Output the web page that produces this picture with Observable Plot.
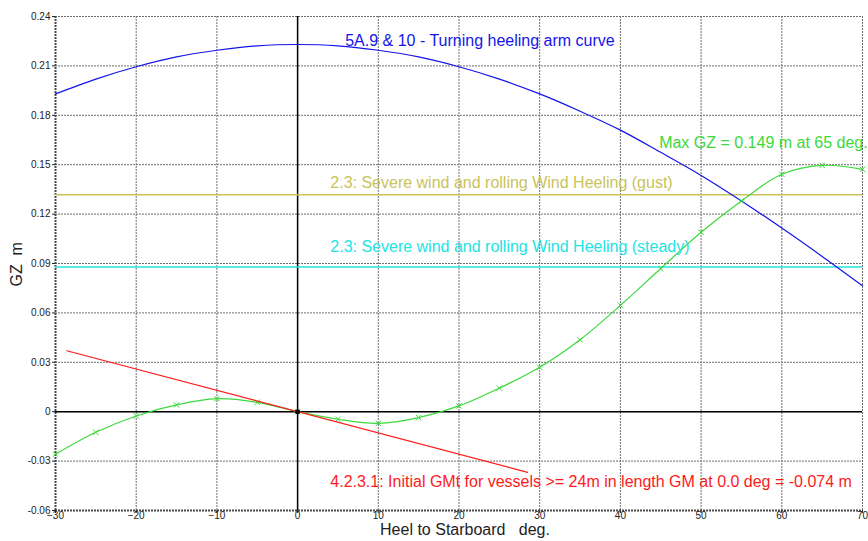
<!DOCTYPE html>
<html>
<head>
<meta charset="utf-8">
<script src="https://cdn.jsdelivr.net/npm/d3@7"></script>
<script src="https://cdn.jsdelivr.net/npm/@observablehq/plot@0.6"></script>
<style>
  html, body { margin: 0; padding: 0; background: #fff; }
  #chart svg { display: block; font-family: "Liberation Sans", Arial, sans-serif; }
</style>
</head>
<body>
<div id="chart"></div>
<script>
// ---- Data ----
const xTicks = [-30, -20, -10, 0, 10, 20, 30, 40, 50, 60, 70];
const yTicks = [-0.06, -0.03, 0, 0.03, 0.06, 0.09, 0.12, 0.15, 0.18, 0.21, 0.24];

// GZ curve (heel deg, GZ m)
const gzHeel = [-30, -25, -20, -15, -10, -5, 0, 5, 10, 15, 20, 25, 30, 35, 40, 45, 50, 55, 60, 65, 70];
const gzValue = [-0.0258, -0.0125, -0.0026, 0.0041, 0.0079, 0.0057, 0, -0.0046, -0.0071, -0.0036, 0.0035, 0.0143, 0.0270, 0.0437, 0.0646, 0.0870, 0.1090, 0.1280, 0.1442, 0.1496, 0.1472];

// Turning heeling arm curve
const armHeel = [-30, -25, -20, -15, -10, -5, 0, 5, 10, 15, 20, 25, 30, 35, 40, 45, 50, 55, 60, 65, 70];
const armValue = [0.1930, 0.2020, 0.2095, 0.2155, 0.2195, 0.2222, 0.2230, 0.2222, 0.2195, 0.2155, 0.2095, 0.2020, 0.1930, 0.1825, 0.1710, 0.1575, 0.1435, 0.1280, 0.1115, 0.0943, 0.0765];

// Wind heeling levels
const gustLevel = 0.1318;
const steadyLevel = 0.0879;

// Initial GMt line
const gmHeel = [-28.6, 28.5];
const gmValue = [0.0370, -0.0368];

// Labels
const labelText = [
  "5A.9 & 10 - Turning heeling arm curve",
  "Max GZ = 0.149 m at 65 deg.",
  "2.3: Severe wind and rolling Wind Heeling (gust)",
  "2.3: Severe wind and rolling Wind Heeling (steady)",
  "4.2.3.1: Initial GMt for vessels >= 24m in length GM at 0.0 deg = -0.074 m"
];
const labelHeel = [5.9, 44.8, 4.05, 4.05, 4.05];
const labelGZ = [0.2254, 0.1630, 0.1387, 0.0999, -0.0426];

const xTitle = "Heel to Starboard\u00a0\u00a0\u00a0deg.";
const yTitle = "GZ\u00a0\u00a0m";

// ---- Colours ----
const cBlue = "#1414ea";
const cGreen = "#3cd93c";
const cGust = "#c9c35c";
const cCyan = "#22e3e3";
const cRed = "#ff1a1a";
const labelColors = [cBlue, cGreen, cGust, cCyan, cRed];

const gz = gzHeel.map((h, i) => ({heel: h, v: gzValue[i]}));
const arm = armHeel.map((h, i) => ({heel: h, v: armValue[i]}));
const gm = gmHeel.map((h, i) => ({heel: h, v: gmValue[i]}));
const labels = labelText.map((t, i) => ({t, heel: labelHeel[i], v: labelGZ[i], c: labelColors[i]}));

const chart = Plot.plot({
  width: 868,
  height: 541,
  marginLeft: 55,
  marginRight: 6,
  marginTop: 16,
  marginBottom: 31,
  style: {fontFamily: "Liberation Sans, Arial, sans-serif", background: "#fff"},
  x: {domain: [-30, 70]},
  y: {domain: [-0.06, 0.24]},
  marks: [
    // grid
    Plot.ruleX(xTicks, {stroke: "#6e6e6e", strokeWidth: 1, strokeDasharray: "2,1"}),
    Plot.ruleY(yTicks, {stroke: "#6e6e6e", strokeWidth: 1, strokeDasharray: "2,1"}),
    // frame axes
    Plot.ruleX([-30], {stroke: "#4a4a4a", strokeWidth: 2, strokeDasharray: "2,1"}),
    Plot.ruleY([-0.06], {stroke: "#4a4a4a", strokeWidth: 2, strokeDasharray: "2,1"}),
    // zero lines
    Plot.ruleX([0], {stroke: "#000", strokeWidth: 1.5}),
    Plot.ruleY([0], {stroke: "#000", strokeWidth: 1.5}),
    // wind heeling levels
    Plot.ruleY([gustLevel], {stroke: cGust, strokeWidth: 1.5}),
    Plot.ruleY([steadyLevel], {stroke: cCyan, strokeWidth: 1.5}),
    // curves
    Plot.line(arm, {x: "heel", y: "v", stroke: cBlue, strokeWidth: 1.2, curve: "catmull-rom"}),
    Plot.line(gz, {x: "heel", y: "v", stroke: cGreen, strokeWidth: 1.2, curve: "catmull-rom"}),
    Plot.dot(gz, {x: "heel", y: "v", symbol: "times", r: 2.6, stroke: cGreen, strokeWidth: 1}),
    Plot.line(gm, {x: "heel", y: "v", stroke: cRed, strokeWidth: 1.2}),
    Plot.dot([{heel: 0, v: 0}], {x: "heel", y: "v", r: 2.5, fill: "#000", stroke: null}),
    // labels
    Plot.text(labels, {x: "heel", y: "v", text: "t", fill: "c", textAnchor: "start", fontSize: 16}),
    // axes
    Plot.axisX(xTicks, {tickSize: 3, tickPadding: -2, fontSize: 10, color: "#222", label: null}),
    Plot.axisY(yTicks, {tickSize: 3, tickPadding: 2, fontSize: 10, color: "#222",
      tickFormat: d => d === 0 ? "0" : d.toFixed(2), label: null}),
    // axis titles
    Plot.text([xTitle], {frameAnchor: "bottom", dx: 6, dy: 24, text: d => d, fontSize: 16, fill: "#222"}),
    Plot.text([yTitle], {frameAnchor: "left", dx: -39, dy: 23, rotate: -90, text: d => d, fontSize: 16, fill: "#222"})
  ]
});
document.getElementById("chart").appendChild(chart);
</script>
</body>
</html>
